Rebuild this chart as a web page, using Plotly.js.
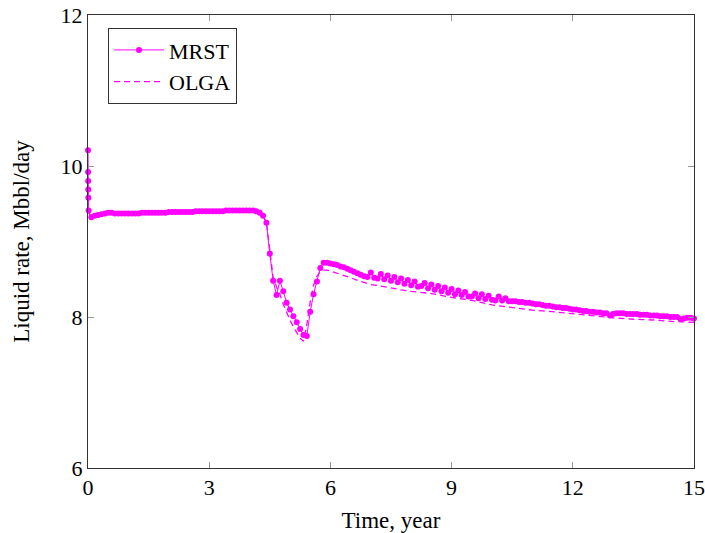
<!DOCTYPE html>
<html>
<head>
<meta charset="utf-8">
<script src="https://cdn.plot.ly/plotly-3.0.1.min.js"></script>
<style>
  html, body { margin: 0; padding: 0; background: #fff; }
  #chart { width: 705px; height: 533px; }
</style>
</head>
<body>
<div id="chart"></div>
<script>
// MRST simulation: start-up samples followed by monthly report steps (years)
const mrstTime = [
  0, 0.002, 0.004, 0.006, 0.008, 0.015,
  0.083, 0.167, 0.25, 0.333, 0.417, 0.5, 0.583, 0.667, 0.75, 0.833, 0.917, 1,
  1.083, 1.167, 1.25, 1.333, 1.417, 1.5, 1.583, 1.667, 1.75, 1.833, 1.917, 2,
  2.083, 2.167, 2.25, 2.333, 2.417, 2.5, 2.583, 2.667, 2.75, 2.833, 2.917, 3,
  3.083, 3.167, 3.25, 3.333, 3.417, 3.5, 3.583, 3.667, 3.75, 3.833, 3.917, 4,
  4.083, 4.167, 4.25, 4.333, 4.417, 4.5, 4.583, 4.667, 4.75, 4.833, 4.917, 5,
  5.083, 5.167, 5.25, 5.333, 5.417, 5.5, 5.583, 5.667, 5.75, 5.833, 5.917, 6,
  6.083, 6.167, 6.25, 6.333, 6.417, 6.5, 6.583, 6.667, 6.75, 6.833, 6.917, 7,
  7.083, 7.167, 7.25, 7.333, 7.417, 7.5, 7.583, 7.667, 7.75, 7.833, 7.917, 8,
  8.083, 8.167, 8.25, 8.333, 8.417, 8.5, 8.583, 8.667, 8.75, 8.833, 8.917, 9,
  9.083, 9.167, 9.25, 9.333, 9.417, 9.5, 9.583, 9.667, 9.75, 9.833, 9.917, 10,
  10.083, 10.167, 10.25, 10.333, 10.417, 10.5, 10.583, 10.667, 10.75, 10.833, 10.917, 11,
  11.083, 11.167, 11.25, 11.333, 11.417, 11.5, 11.583, 11.667, 11.75, 11.833, 11.917, 12,
  12.083, 12.167, 12.25, 12.333, 12.417, 12.5, 12.583, 12.667, 12.75, 12.833, 12.917, 13,
  13.083, 13.167, 13.25, 13.333, 13.417, 13.5, 13.583, 13.667, 13.75, 13.833, 13.917, 14,
  14.083, 14.167, 14.25, 14.333, 14.417, 14.5, 14.583, 14.667, 14.75, 14.833, 14.917, 15
];

// MRST liquid rate, Mbbl/day
const mrstRate = [
  10.21, 9.92, 9.80, 9.69, 9.58, 9.41,
  9.32, 9.34, 9.35, 9.36, 9.37, 9.38, 9.38, 9.37, 9.37, 9.37, 9.37, 9.37,
  9.37, 9.37, 9.37, 9.38, 9.38, 9.38, 9.38, 9.38, 9.38, 9.38, 9.38, 9.39,
  9.39, 9.39, 9.39, 9.39, 9.39, 9.39, 9.39, 9.40, 9.40, 9.40, 9.40, 9.40,
  9.40, 9.40, 9.40, 9.40, 9.41, 9.41, 9.41, 9.41, 9.41, 9.41, 9.41, 9.41,
  9.41, 9.40, 9.38, 9.34, 9.25, 8.84, 8.48, 8.29, 8.48, 8.34, 8.19, 8.10,
  8.01, 7.93, 7.84, 7.76, 7.75, 8.07, 8.30, 8.47, 8.65, 8.72, 8.72, 8.71,
  8.70, 8.69, 8.67, 8.66, 8.64, 8.62, 8.60, 8.58, 8.56, 8.54, 8.53, 8.59,
  8.52, 8.51, 8.57, 8.50, 8.55, 8.48, 8.53, 8.46, 8.51, 8.44, 8.49, 8.42,
  8.47, 8.40, 8.41, 8.45, 8.38, 8.43, 8.36, 8.41, 8.34, 8.39, 8.32, 8.37,
  8.30, 8.35, 8.29, 8.33, 8.27, 8.27, 8.31, 8.25, 8.30, 8.24, 8.28, 8.23,
  8.22, 8.27, 8.22, 8.25, 8.21, 8.21, 8.21, 8.20, 8.20, 8.19, 8.19, 8.18,
  8.17, 8.17, 8.16, 8.15, 8.15, 8.14, 8.13, 8.13, 8.12, 8.12, 8.11, 8.10,
  8.10, 8.09, 8.08, 8.08, 8.07, 8.07, 8.06, 8.06, 8.05, 8.05, 8.02, 8.04,
  8.05, 8.05, 8.05, 8.04, 8.04, 8.04, 8.04, 8.03, 8.03, 8.03, 8.02, 8.02,
  8.02, 8.01, 8.01, 8.01, 8.00, 8.00, 8.00, 7.97, 7.98, 7.99, 7.99, 7.98
];

// OLGA reference simulation
const olgaTime = [
  0, 0.083, 0.5, 1, 2, 3, 4, 4.25, 4.333, 4.417, 4.5, 4.583, 4.667, 4.75,
  4.833, 4.917, 5, 5.083, 5.167, 5.25, 5.333, 5.417, 5.5, 5.583, 5.667,
  5.75, 5.833, 5.917, 6, 6.25, 6.5, 6.75, 7, 7.25, 7.5, 7.75, 8, 8.5, 9,
  9.5, 10, 10.5, 11, 11.5, 12, 12.5, 13, 13.5, 14, 14.5, 15
];
const olgaRate = [
  9.40, 9.32, 9.38, 9.37, 9.39, 9.40, 9.41, 9.38, 9.34, 9.25, 8.85, 8.52, 8.40, 8.30,
  8.17, 8.05, 7.96, 7.87, 7.79, 7.72, 7.68, 7.90, 8.20, 8.42, 8.54,
  8.60, 8.62, 8.62, 8.61, 8.57, 8.52, 8.47, 8.43, 8.41, 8.38, 8.36, 8.34, 8.31, 8.26,
  8.22, 8.16, 8.12, 8.09, 8.07, 8.04, 8.01, 7.99, 7.97, 7.96, 7.94, 7.93
];

const xTicks = [0, 3, 6, 9, 12, 15];
const yTicks = [6, 8, 10, 12];

const MAGENTA = '#ff00ff';
const SERIF = '"Liberation Serif", "DejaVu Serif", serif';
const FONT_SIZE = 22;

const traces = [
  {
    name: 'MRST',
    x: mrstTime,
    y: mrstRate,
    type: 'scatter',
    mode: 'lines+markers',
    line: { color: MAGENTA, width: 1 },
    marker: { color: MAGENTA, size: 6 },
    cliponaxis: false
  },
  {
    name: 'OLGA',
    x: olgaTime,
    y: olgaRate,
    type: 'scatter',
    mode: 'lines',
    line: { color: MAGENTA, width: 1.3, dash: '6px,4px' }
  }
];

const axisCommon = {
  showline: true,
  linecolor: '#333',
  linewidth: 1,
  mirror: 'allticks',
  ticks: 'inside',
  ticklen: 6,
  tickwidth: 1,
  tickcolor: '#999',
  showgrid: false,
  zeroline: false,
  tickfont: { family: SERIF, size: FONT_SIZE, color: '#000' }
};

const layout = {
  width: 705,
  height: 533,
  margin: { l: 88, r: 11, t: 15, b: 65 },
  paper_bgcolor: '#fff',
  plot_bgcolor: '#fff',
  font: { family: SERIF, size: FONT_SIZE, color: '#000' },
  showlegend: true,
  legend: {
    x: 0.033, y: 0.971, xanchor: 'left', yanchor: 'top',
    bgcolor: '#fff', bordercolor: '#333', borderwidth: 1,
    itemwidth: 50,
    font: { family: SERIF, size: FONT_SIZE, color: '#000' }
  },
  xaxis: Object.assign({}, axisCommon, {
    range: [0, 15],
    tickvals: xTicks,
    ticktext: xTicks.map(String),
    title: { text: 'Time, year', font: { family: SERIF, size: 23 }, standoff: 14 }
  }),
  yaxis: Object.assign({}, axisCommon, {
    range: [6, 12],
    tickvals: yTicks,
    ticktext: yTicks.map(String),
    title: { text: 'Liquid rate, Mbbl/day', font: { family: SERIF, size: 23 }, standoff: 24 }
  })
};

Plotly.newPlot('chart', traces, layout, { displayModeBar: false, staticPlot: true });
</script>
</body>
</html>
